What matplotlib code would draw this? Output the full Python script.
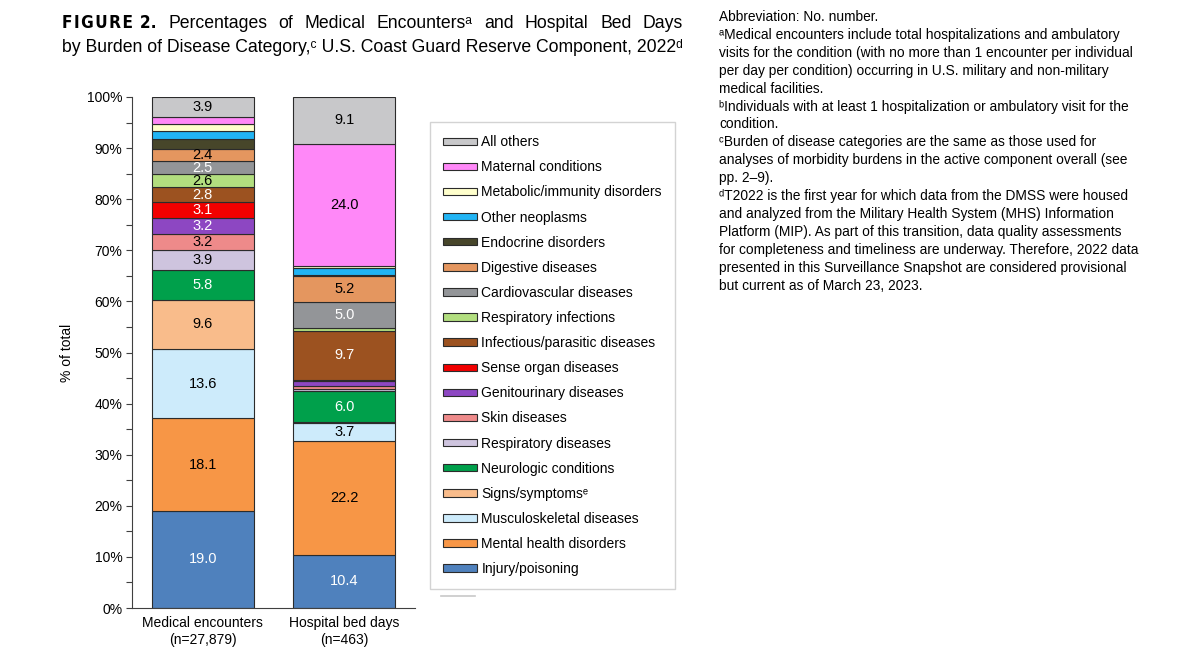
import matplotlib
matplotlib.use("Agg")
import matplotlib.pyplot as plt
from matplotlib.patches import Patch
from matplotlib.lines import Line2D
import numpy as np

plt.rcParams['font.family'] = ['Liberation Sans', 'DejaVu Sans']

# data (stack order: bottom -> top)
groups = ["Medical encounters\n(n=27,879)", "Hospital bed days\n(n=463)"]
categories = [
    "Injury/poisoning", "Mental health disorders", "Musculoskeletal diseases",
    "Signs/symptoms\u1d49", "Neurologic conditions", "Respiratory diseases",
    "Skin diseases", "Genitourinary diseases", "Sense organ diseases",
    "Infectious/parasitic diseases", "Respiratory infections",
    "Cardiovascular diseases", "Digestive diseases", "Endocrine disorders",
    "Other neoplasms", "Metabolic/immunity disorders", "Maternal conditions",
    "All others",
]
medical = [19.0, 18.1, 13.6, 9.6, 5.8, 3.9, 3.2, 3.2, 3.1, 2.8, 2.6, 2.5, 2.4,
           2.0, 1.5, 1.4, 1.4, 3.9]
bed_days = [10.4, 22.2, 3.7, 0.1, 6.0, 0.5, 0.5, 1.1, 0.1, 9.7, 0.5, 5.0, 5.2,
            0.2, 1.3, 0.4, 24.0, 9.1]

colors = ["#4F81BD", "#F79646", "#CDEBFB", "#F9BC8B", "#00A04B", "#CEC4DE",
          "#EE8A8A", "#8D47C2", "#F20000", "#9C5220", "#B2DE7F", "#939598",
          "#E4965F", "#47462A", "#21B4F4", "#FFFFCC", "#FF88F8", "#C8C8CA"]
text_colors = ["white", "black", "black", "black", "white", "black", "black",
               "white", "white", "white", "black", "white", "black", "white",
               "black", "black", "black", "black"]

W, H = 1200, 660
fig = plt.figure(figsize=(12, 6.6), dpi=100)
ax = fig.add_axes([132 / W, 52 / H, 283 / W, 511 / H])

x = np.arange(len(groups))
series = np.array([medical, bed_days])
bottom = np.zeros(len(groups))
for i, cat in enumerate(categories):
    vals = series[:, i]
    ax.bar(x, vals, 0.72, bottom=bottom, color=colors[i], edgecolor="#2b2b2b",
           linewidth=0.8, label=cat)
    for j, v in enumerate(vals):
        if v >= 2.3:
            ax.text(x[j], bottom[j] + v / 2, f"{v:.1f}", ha="center", va="center",
                    fontsize=10.5, color=text_colors[i])
    bottom += vals

ax.set_xlim(-0.5, 1.5)
ax.set_ylim(0, 100)
ax.set_xticks(x)
ax.set_xticklabels(groups, fontsize=10)
ax.tick_params(axis="x", length=0, pad=6)
ax.set_yticks(np.arange(0, 101, 10))
ax.set_yticklabels([f"{v}%" for v in range(0, 101, 10)], fontsize=10)
ax.set_yticks(np.arange(5, 100, 10), minor=True)
ax.tick_params(axis="y", which="both", length=4, width=0.8, color="#404040", pad=3)
for s in ["top", "right"]:
    ax.spines[s].set_visible(False)
for s in ["left", "bottom"]:
    ax.spines[s].set_color("#404040")
    ax.spines[s].set_linewidth(0.8)
ax.set_ylabel("% of total", fontsize=10, labelpad=9)

# legend (top category first)
handles = [Patch(facecolor=colors[i], edgecolor="#2b2b2b", linewidth=0.8,
                 label=categories[i]) for i in range(len(categories) - 1, -1, -1)]
leg = fig.legend(handles=handles, loc="upper left",
                 bbox_to_anchor=(430 / W, 1 - 122 / H), borderaxespad=0,
                 fontsize=10, frameon=True, fancybox=False, edgecolor="#C8C8C8",
                 handlelength=2.45, handleheight=0.45, handletextpad=0.3,
                 labelspacing=0.8, borderpad=0.95)
leg.get_frame().set_linewidth(1.0)
fig.add_artist(Line2D([441 / W, 475 / W], [1 - 596 / H, 1 - 596 / H],
                      color="#C8C8C8", lw=1.2))

# title, line 1 justified between x=62 and x=683
words = ["Percentages", "of", "Medical", "Encounters\u1d43", "and",
         "Hospital", "Bed", "Days"]
tsize = 12.7
t_fig = fig.text(62 / W, 1 - 23 / H, "F\u200aI\u200aG\u200aU\u200aR\u200aE\u200a 2.",
                 fontsize=12.3, fontweight="bold", fontstretch="condensed",
                 family="DejaVu Sans", va="center", ha="left")
texts = [t_fig] + [fig.text(0, 1 - 23 / H, w, fontsize=tsize, va="center", ha="left")
                   for w in words]
fig.text(62 / W, 1 - 47 / H,
         "by Burden of Disease Category,\u1d9c U.S. Coast Guard Reserve Component, 2022\u1d48",
         fontsize=tsize, va="center", ha="left")
fig.canvas.draw()
r = fig.canvas.get_renderer()
ws = [t.get_window_extent(r).width for t in texts]
gap = (683 - 62 - sum(ws)) / (len(ws) - 1)
xp = 62
for t, w in zip(texts, ws):
    t.set_x(xp / W)
    xp += w + gap

# notes on the right
notes = [
    "Abbreviation: No. number.",
    "\u1d43Medical encounters include total hospitalizations and ambulatory",
    "visits for the condition (with no more than 1 encounter per individual",
    "per day per condition) occurring in U.S. military and non-military",
    "medical facilities.",
    "\u1d47Individuals with at least 1 hospitalization or ambulatory visit for the",
    "condition.",
    "\u1d9cBurden of disease categories are the same as those used for",
    "analyses of morbidity burdens in the active component overall (see",
    "pp. 2\u20139).",
    "\u1d48T2022 is the first year for which data from the DMSS were housed",
    "and analyzed from the Military Health System (MHS) Information",
    "Platform (MIP). As part of this transition, data quality assessments",
    "for completeness and timeliness are underway. Therefore, 2022 data",
    "presented in this Surveillance Snapshot are considered provisional",
    "but current as of March 23, 2023.",
]
for k, line in enumerate(notes):
    fig.text(719 / W, 1 - (17 + 17.9 * k) / H, line, fontsize=9.9,
             va="center", ha="left")

fig.savefig("out.png", dpi=100)
